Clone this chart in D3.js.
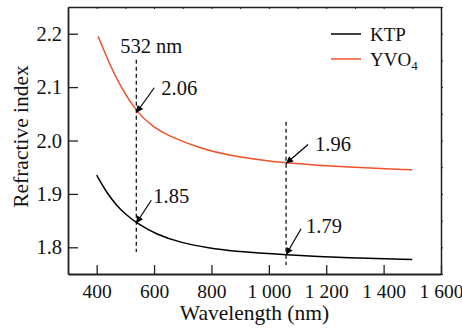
<!DOCTYPE html>
<html>
  <head>
    <meta charset="utf-8" />
    <script src="https://cdn.jsdelivr.net/npm/d3@7/dist/d3.min.js"></script>
    <style>
      body { margin: 0; background: #fff; }
      .axis path, .axis line { stroke: #222; }
    </style>
  </head>
  <body>
    <div id="chart"></div>
    <script>
      // wavelength samples (nm) and refractive index
      var ktpWl = [400, 435, 470, 500, 540, 609, 690, 795, 868, 1056, 1283, 1500];
      var ktpN = [1.935, 1.902, 1.878, 1.862, 1.845, 1.824, 1.809, 1.798, 1.793, 1.786, 1.78, 1.777];
      var yvoWl = [405, 445, 480, 540, 600, 645, 760, 868, 1056, 1283, 1500];
      var yvoN = [2.195, 2.143, 2.104, 2.052, 2.024, 2.01, 1.985, 1.971, 1.957, 1.95, 1.945];

      var xTicks = [400, 600, 800, 1000, 1200, 1400, 1600];
      var xTickLabels = ["400", "600", "800", "1 000", "1 200", "1 400", "1 600"];
      var xMinor = [300, 400, 500, 600, 700, 800, 900, 1000, 1100, 1200, 1300, 1400, 1500, 1600];
      var yTicks = [1.8, 1.9, 2.0, 2.1, 2.2];
      var yTickLabels = ["1.8", "1.9", "2.0", "2.1", "2.2"];
      var yMinor = [1.75, 1.8, 1.85, 1.9, 1.95, 2.0, 2.05, 2.1, 2.15, 2.2, 2.25];

      // dashed markers at 532 and 1064 nm
      var markWl = [538, 1060];
      var markTop = [2.151, 2.035];
      var markBottom = [1.791, 1.767];

      // arrow annotations: tip (wavelength, index) and label
      var arrowWl = [538, 1060, 538, 1060];
      var arrowN = [2.052, 1.957, 1.845, 1.786];
      var arrowLabels = ["2.06", "1.96", "1.85", "1.79"];

      var seriesNames = ["KTP", "YVO"];
      var seriesColors = ["#000000", "#f0502a"];

      var FONT = "'Liberation Serif'";

      var W = 462, H = 329;
      var margin = { left: 68, right: 21, top: 7, bottom: 55 };
      var width = W - margin.left - margin.right,
        height = H - margin.top - margin.bottom;

      var svg = d3.select("#chart").append("svg")
        .attr("width", W).attr("height", H);
      var g = svg.append("g")
        .attr("transform", "translate(" + margin.left + "," + margin.top + ")");

      var x = d3.scaleLinear().domain([300, 1600]).range([0, width]);
      var y = d3.scaleLinear().domain([1.75, 2.25]).range([height, 0]);

      svg.append("defs").append("marker")
        .attr("id", "arrow")
        .attr("viewBox", "0 0 10 10")
        .attr("refX", 10).attr("refY", 5)
        .attr("markerWidth", 9).attr("markerHeight", 7)
        .attr("markerUnits", "userSpaceOnUse")
        .attr("orient", "auto")
        .append("path").attr("d", "M0,0 L10,5 L0,10 z").attr("fill", "#000");

      // top and right small ticks
      g.append("g").attr("class", "axis")
        .call(d3.axisTop(x).tickValues(xMinor).tickSize(-2).tickSizeOuter(0).tickFormat(""))
        .call(s => s.select(".domain").attr("stroke-width", 1.5));
      g.append("g").attr("class", "axis")
        .attr("transform", "translate(" + width + ",0)")
        .call(d3.axisRight(y).tickValues(yMinor).tickSize(2).tickSizeOuter(0).tickFormat(""))
        .call(s => s.select(".domain").attr("stroke-width", 1.5));

      // bottom axis
      g.append("g").attr("class", "axis")
        .attr("transform", "translate(0," + height + ")")
        .call(d3.axisBottom(x).tickValues(xTicks).tickSize(-9).tickSizeOuter(0).tickPadding(10)
          .tickFormat((d, i) => xTickLabels[i]))
        .call(s => s.select(".domain").attr("stroke-width", 1.8))
        .call(s => s.selectAll("line").attr("stroke-width", 1.3))
        .call(s => s.selectAll("text").style("font-family", FONT).style("font-size", "19.5px").attr("fill", "#111"));

      // left axis
      g.append("g").attr("class", "axis")
        .call(d3.axisLeft(y).tickValues(yTicks).tickSize(-10).tickSizeOuter(0).tickPadding(6)
          .tickFormat((d, i) => yTickLabels[i]))
        .call(s => s.select(".domain").attr("stroke-width", 1.8))
        .call(s => s.selectAll("line").attr("stroke-width", 1.3))
        .call(s => s.selectAll("text").style("font-family", FONT).style("font-size", "20.5px").attr("fill", "#111"));

      // axis titles
      g.append("text")
        .attr("x", width / 2).attr("y", height + 46)
        .attr("text-anchor", "middle")
        .style("font-family", FONT).style("font-size", "21.5px").attr("fill", "#111")
        .text("Wavelength (nm)");
      g.append("text")
        .attr("transform", "translate(" + (-40) + "," + (height / 2 - 4) + ") rotate(-90)")
        .attr("text-anchor", "middle")
        .style("font-family", FONT).style("font-size", "21.5px").attr("fill", "#111")
        .text("Refractive index");

      // curves
      var line = d3.line().curve(d3.curveBasis)
        .x(d => x(d[0])).y(d => y(d[1]));
      var series = [d3.zip(ktpWl, ktpN), d3.zip(yvoWl, yvoN)];
      series.forEach((pts, i) => {
        g.append("path").datum(pts)
          .attr("fill", "none")
          .attr("stroke", seriesColors[i])
          .attr("stroke-width", 1.5)
          .attr("d", line);
      });

      // dashed markers
      markWl.forEach((w, i) => {
        g.append("line")
          .attr("x1", x(w)).attr("x2", x(w))
          .attr("y1", y(markTop[i])).attr("y2", y(markBottom[i]))
          .attr("stroke", "#000").attr("stroke-width", 1.2)
          .attr("stroke-dasharray", "4,3");
      });
      g.append("text")
        .attr("x", x(markWl[0]) + 15).attr("y", y(markTop[0]) - 7)
        .attr("text-anchor", "middle")
        .style("font-family", FONT).style("font-size", "20.5px").attr("fill", "#111")
        .text("532 nm");

      // arrows with value labels
      var tail = [[18, -25], [22, -19], [15, -23], [15, -26]];
      var labOff = [[7, 7], [7, 7], [2, 3], [5, 4]];
      arrowWl.forEach((w, i) => {
        var tx = x(w), ty = y(arrowN[i]);
        var sx = tx + tail[i][0], sy = ty + tail[i][1];
        g.append("line")
          .attr("x1", sx).attr("y1", sy).attr("x2", tx).attr("y2", ty)
          .attr("stroke", "#000").attr("stroke-width", 1.2)
          .attr("marker-end", "url(#arrow)");
        g.append("text")
          .attr("x", sx + labOff[i][0]).attr("y", sy + labOff[i][1])
          .style("font-family", FONT).style("font-size", "20.5px").attr("fill", "#111")
          .text(arrowLabels[i]);
      });

      // legend
      var leg = g.append("g").attr("transform", "translate(" + (331 - margin.left) + "," + (34 - margin.top) + ")");
      seriesNames.forEach((name, i) => {
        leg.append("line")
          .attr("x1", 0).attr("x2", 30)
          .attr("y1", i * 25).attr("y2", i * 25)
          .attr("stroke", seriesColors[i]).attr("stroke-width", 1.5);
        var t = leg.append("text")
          .attr("x", 39).attr("y", i * 25 + 7)
          .style("font-family", FONT).style("font-size", "19px").attr("fill", "#111")
          .text(name);
        if (i == 1) {
          t.append("tspan").style("font-size", "13px").attr("dy", 4).text("4");
        }
      });
    </script>
  </body>
</html>
